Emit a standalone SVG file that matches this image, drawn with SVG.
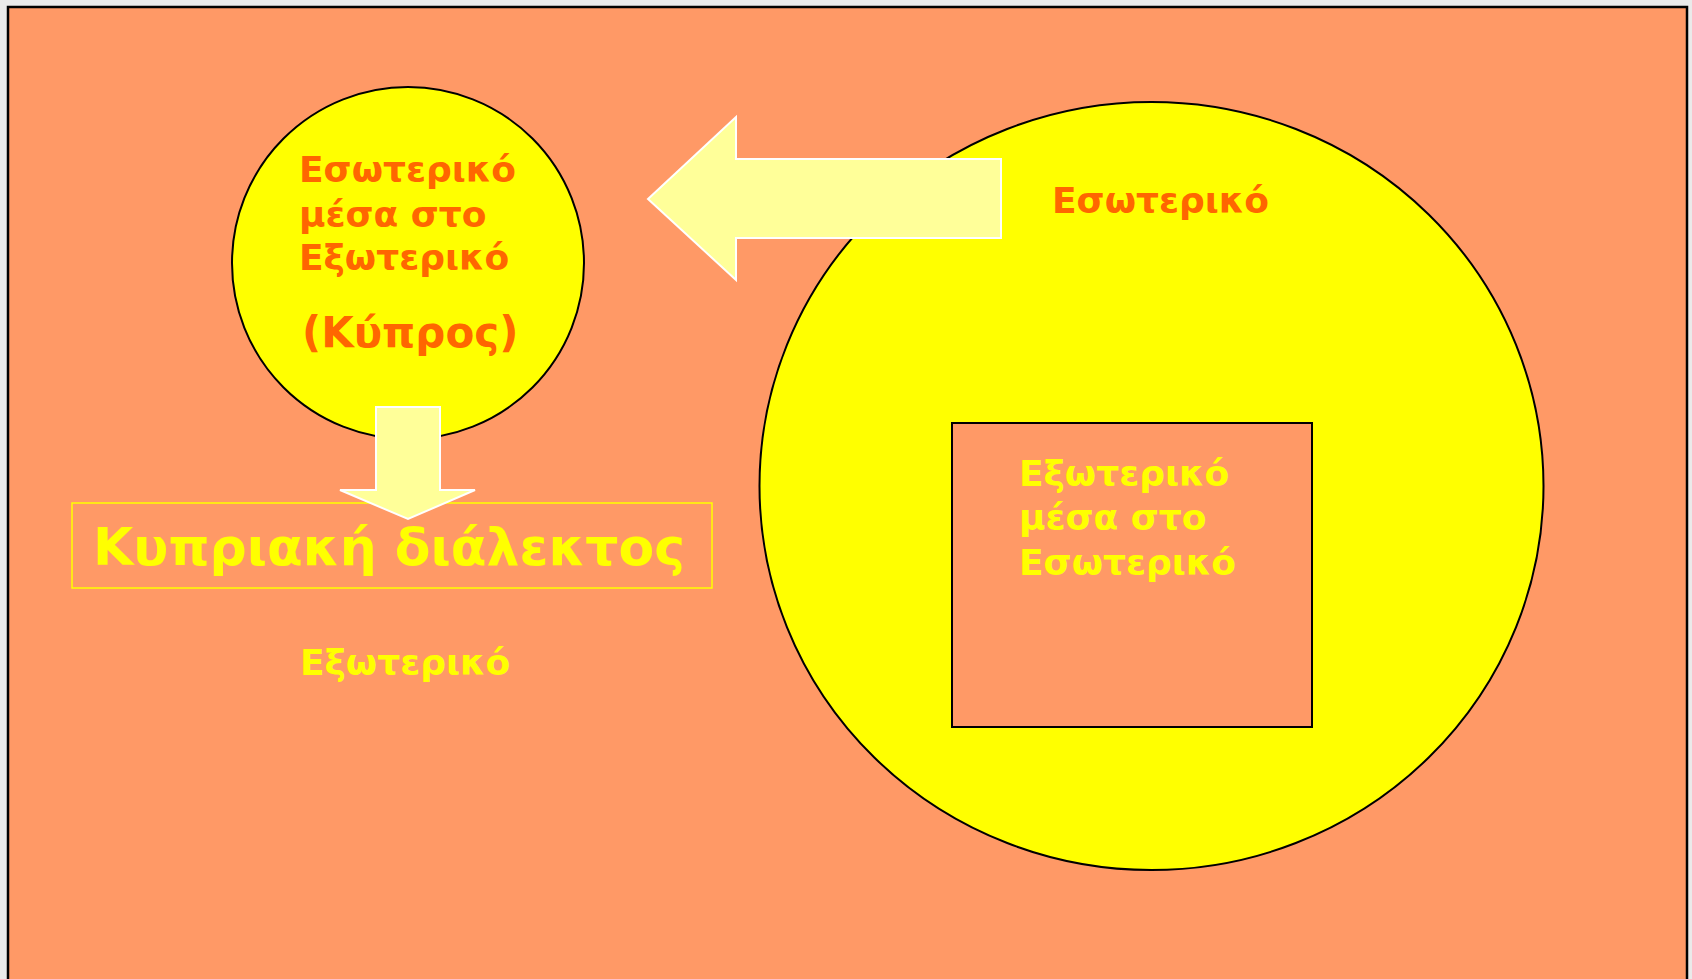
<svg xmlns="http://www.w3.org/2000/svg" width="1692" height="979" viewBox="0 0 1692 979">
<style>
  .t { font-family: "DejaVu Sans", Verdana, sans-serif; font-weight: bold; }
  .or { fill: #FF6600; }
  .ye { fill: #FFFF00; }
  .arrow { fill: #FFFF99; stroke: #FFFFFF; stroke-width: 2; }
</style>
<rect x="0" y="0" width="1692" height="979" fill="#EAEAEA"/>
<rect x="8" y="7" width="1679" height="1000" fill="#FF9966" stroke="#000" stroke-width="2.5"/>

<g id="big-ellipse">
  <ellipse cx="1151.5" cy="486" rx="392" ry="384" fill="#FFFF00" stroke="#000" stroke-width="2"/>
  <text class="t or" x="1052" y="213" font-size="36">Εσωτερικό</text>
</g>

<g id="inner-rect">
  <rect x="952" y="423" width="360" height="304" fill="#FF9966" stroke="#000" stroke-width="2"/>
  <text class="t ye" font-size="36">
    <tspan x="1019" y="486">Εξωτερικό</tspan>
    <tspan x="1019" y="530">μέσα στο</tspan>
    <tspan x="1019" y="575">Εσωτερικό</tspan>
  </text>
</g>

<g id="small-circle">
  <circle cx="408" cy="263" r="176" fill="#FFFF00" stroke="#000" stroke-width="2"/>
  <text class="t or" font-size="36">
    <tspan x="299" y="182">Εσωτερικό</tspan>
    <tspan x="299" y="227">μέσα στο</tspan>
    <tspan x="299" y="270">Εξωτερικό</tspan>
  </text>
  <text class="t or" x="302" y="347" font-size="42">(Κύπρος)</text>
</g>

<g id="dialect-box">
  <rect x="72" y="503" width="640" height="85" fill="none" stroke="#FFFF00" stroke-width="1.5"/>
  <text class="t ye" x="93" y="565" font-size="52">Κυπριακή διάλεκτος</text>
</g>

<g id="outside-label">
  <text class="t ye" x="300" y="675" font-size="36">Εξωτερικό</text>
</g>

<g id="connectors">
  <polygon class="arrow" points="1001,159 736,159 736,117 648,199 736,280 736,238 1001,238"/>
  <polygon class="arrow" points="376,407 440,407 440,490 475,490 408,519 340,490 376,490"/>
</g>
</svg>
